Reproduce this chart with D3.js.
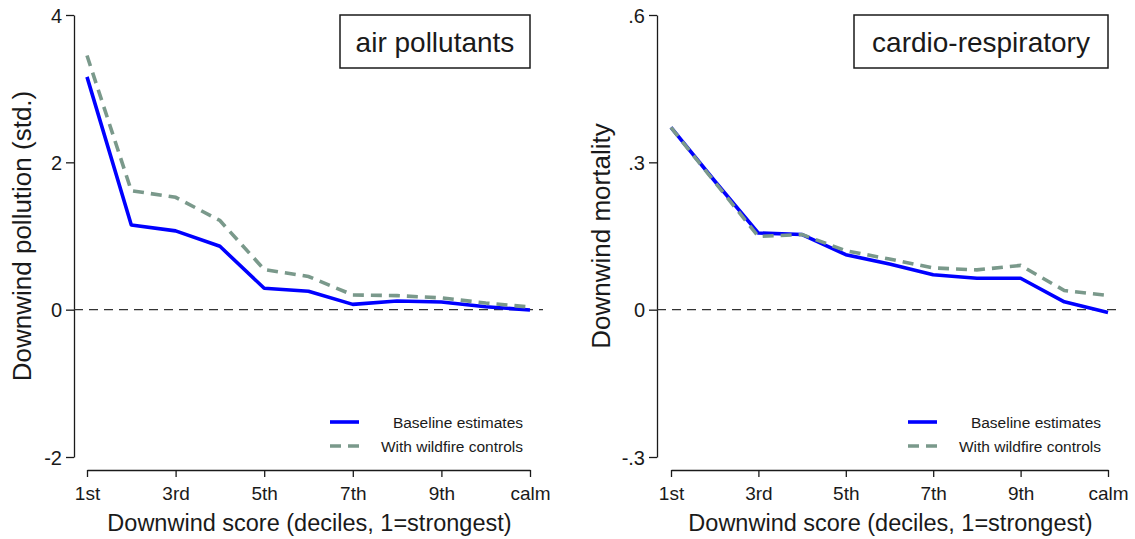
<!DOCTYPE html>
<html>
<head>
<meta charset="utf-8">
<script src="https://cdn.jsdelivr.net/npm/d3@7"></script>
<style>
  html, body { margin: 0; padding: 0; background: #fff; }
  svg { display: block; font-family: "Liberation Sans", Arial, Helvetica, sans-serif; }
</style>
</head>
<body>
<svg id="chart" width="1135" height="539"></svg>
<script>
// Decile positions along the x axis (1 = strongest downwind, 11 = calm)
const decilePositions = [1, 2, 3, 4, 5, 6, 7, 8, 9, 10, 11];
const xTickValues = [1, 3, 5, 7, 9, 11];
const xTickLabels = ["1st", "3rd", "5th", "7th", "9th", "calm"];

// Air pollutants panel
const pollutionBaseline = [3.16, 1.15, 1.07, 0.86, 0.29, 0.25, 0.072, 0.117, 0.104, 0.04, -0.005];
const pollutionWildfire = [3.45, 1.615, 1.525, 1.21, 0.545, 0.45, 0.20, 0.19, 0.16, 0.09, 0.035];
const pollutionTicks = [-2, 0, 2, 4];

// Cardio-respiratory mortality panel
const mortalityBaseline = [0.371, 0.262, 0.156, 0.153, 0.112, 0.093, 0.071, 0.064, 0.064, 0.016, -0.006];
const mortalityWildfire = [0.371, 0.260, 0.149, 0.153, 0.120, 0.103, 0.085, 0.081, 0.090, 0.039, 0.029];
const mortalityTicks = [-0.3, 0, 0.3, 0.6];

const legendLabels = ["Baseline estimates", "With wildfire controls"];
const xAxisTitle = "Downwind score (deciles, 1=strongest)";

const BLUE = "#0000ff";
const SAGE = "#7a998b";
const INK = "#1a1a1a";

const svg = d3.select("#chart");

// Plain hyphen for negative numbers, no leading zero for decimals
const hyphen = s => s.replace("\u2212", "-");

const panels = [
  {
    title: "air pollutants",
    yTitle: "Downwind pollution (std.)",
    baseline: pollutionBaseline,
    wildfire: pollutionWildfire,
    yDomain: [-2, 4],
    yTicks: pollutionTicks,
    yFormat: d => hyphen(d3.format("d")(d)),
    axisX: 74,
    xRange: [87, 530],
    boxW: 190,
    yTitleX: 22
  },
  {
    title: "cardio-respiratory",
    yTitle: "Downwind mortality",
    baseline: mortalityBaseline,
    wildfire: mortalityWildfire,
    yDomain: [-0.3, 0.6],
    yTicks: mortalityTicks,
    yFormat: d => d === 0 ? "0" : hyphen(d3.format(".1f")(d)).replace("0.", "."),
    axisX: 657,
    xRange: [671, 1108],
    boxW: 254,
    yTitleX: 601
  }
];

const yRange = [457, 15];
const xAxisY = 470;

panels.forEach(p => {
  const g = svg.append("g");
  const x = d3.scaleLinear().domain([1, 11]).range(p.xRange);
  const y = d3.scaleLinear().domain(p.yDomain).range(yRange);

  // Y axis
  const yAxis = g.append("g")
    .attr("transform", `translate(${p.axisX},0)`)
    .call(d3.axisLeft(y).tickValues(p.yTicks).tickFormat(p.yFormat)
      .tickSizeInner(8).tickSizeOuter(0).tickPadding(4));
  yAxis.select(".domain").attr("stroke", INK).attr("stroke-width", 1.3);
  yAxis.selectAll(".tick line").attr("stroke", INK).attr("stroke-width", 1.3);
  yAxis.selectAll(".tick text").attr("fill", INK)
    .style("font-size", "20px").attr("font-family", null).attr("dy", "0.36em");

  // X axis
  const xAxis = g.append("g")
    .attr("transform", `translate(0,${xAxisY})`)
    .call(d3.axisBottom(x).tickValues(xTickValues)
      .tickFormat((d, i) => xTickLabels[i])
      .tickSizeInner(7).tickSizeOuter(0).tickPadding(10));
  xAxis.select(".domain").attr("stroke", INK).attr("stroke-width", 1.3);
  xAxis.selectAll(".tick line").attr("stroke", INK).attr("stroke-width", 1.3);
  xAxis.selectAll(".tick text").attr("fill", INK)
    .style("font-size", "19px").attr("font-family", null);

  // Zero reference line
  g.append("line")
    .attr("x1", p.axisX).attr("x2", p.xRange[1] + 13)
    .attr("y1", y(0)).attr("y2", y(0))
    .attr("stroke", "#333").attr("stroke-width", 1.4)
    .attr("stroke-dasharray", "9,6");

  const line = d3.line()
    .x((d, i) => x(decilePositions[i]))
    .y(d => y(d));

  // Series: baseline solid, wildfire controls dashed on top
  g.append("path").datum(p.baseline)
    .attr("d", line).attr("fill", "none")
    .attr("stroke", BLUE).attr("stroke-width", 3.6)
    .attr("stroke-linejoin", "round");
  g.append("path").datum(p.wildfire)
    .attr("d", line).attr("fill", "none")
    .attr("stroke", SAGE).attr("stroke-width", 3.6)
    .attr("stroke-dasharray", "11,7");

  // Panel title box
  const boxRight = p.xRange[1];
  g.append("rect")
    .attr("x", boxRight - p.boxW).attr("y", 15)
    .attr("width", p.boxW).attr("height", 53)
    .attr("fill", "#fff").attr("stroke", INK).attr("stroke-width", 1.5);
  g.append("text")
    .attr("x", boxRight - p.boxW / 2).attr("y", 52)
    .attr("text-anchor", "middle")
    .style("font-size", "28px").attr("fill", INK)
    .text(p.title);

  // Y axis title
  g.append("text")
    .attr("transform", `translate(${p.yTitleX + 9},236) rotate(-90)`)
    .attr("text-anchor", "middle")
    .style("font-size", "26px").attr("fill", INK)
    .text(p.yTitle);

  // X axis title
  g.append("text")
    .attr("x", (p.xRange[0] + p.xRange[1]) / 2 + 1).attr("y", 531)
    .attr("text-anchor", "middle")
    .style("font-size", "23.5px").attr("fill", INK)
    .text(xAxisTitle);

  // Legend
  const legRight = p.xRange[1] - 7;
  const keyX = p.xRange[1] - 200;
  const legend = [
    { label: legendLabels[0], color: BLUE, dash: null, y: 422 },
    { label: legendLabels[1], color: SAGE, dash: "11,7", y: 446 }
  ];
  legend.forEach(item => {
    g.append("line")
      .attr("x1", keyX).attr("x2", keyX + 29)
      .attr("y1", item.y).attr("y2", item.y)
      .attr("stroke", item.color).attr("stroke-width", 3.6)
      .attr("stroke-dasharray", item.dash);
    g.append("text")
      .attr("x", legRight).attr("y", item.y + 6)
      .attr("text-anchor", "end")
      .style("font-size", "15.5px").attr("fill", INK)
      .text(item.label);
  });
});
</script>
</body>
</html>
